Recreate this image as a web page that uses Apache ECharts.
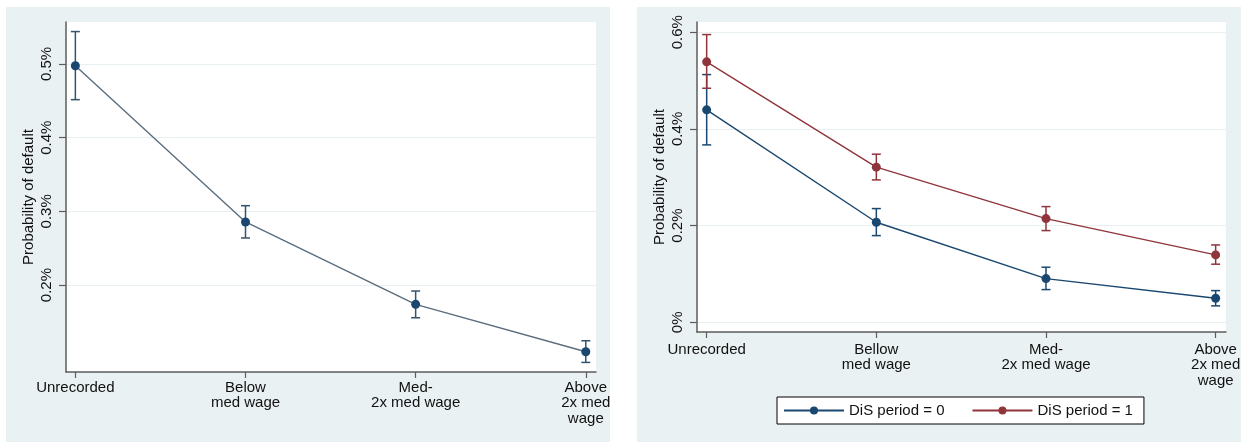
<!DOCTYPE html>
<html>
<head>
<meta charset="utf-8">
<script src="https://cdn.jsdelivr.net/npm/echarts@6/dist/echarts.min.js"></script>
<style>
  html, body { margin: 0; padding: 0; background: #ffffff; }
  #wrap { position: relative; width: 1252px; height: 442px; overflow: hidden; }
  .panel { position: absolute; background: #eaf1f3; }
  #chart { position: absolute; left: 0; top: 0; width: 1252px; height: 442px; }
</style>
</head>
<body>
<div id="wrap">
  <div class="panel" style="left:6px; top:7px; width:604px; height:435px;"></div>
  <div class="panel" style="left:637px; top:7px; width:604px; height:435px;"></div>
  <div id="chart"></div>
</div>
<script>
// ---- Data ----
const categoriesLeft = ['Unrecorded', 'Below\nmed wage', 'Med-\n2x med wage', 'Above\n2x med\nwage'];
const categoriesRight = ['Unrecorded', 'Bellow\nmed wage', 'Med-\n2x med wage', 'Above\n2x med\nwage'];

const leftValues = [0.4977, 0.2856, 0.1738, 0.1095];
const leftLower  = [0.4516, 0.2639, 0.1556, 0.0950];
const leftUpper  = [0.5440, 0.3077, 0.1919, 0.1244];

const dis0Values = [0.4393, 0.2070, 0.0904, 0.0498];
const dis0Lower  = [0.3669, 0.1793, 0.0677, 0.0340];
const dis0Upper  = [0.5123, 0.2352, 0.1140, 0.0656];

const dis1Values = [0.5386, 0.3208, 0.2145, 0.1394];
const dis1Lower  = [0.4840, 0.2945, 0.1897, 0.1202];
const dis1Upper  = [0.5950, 0.3477, 0.2393, 0.1600];

const leftTicks = [0.2, 0.3, 0.4, 0.5];
const rightTicks = [0, 0.2, 0.4, 0.6];
const catIdx = [0, 1, 2, 3];

const seriesNames = ['DiS period = 0', 'DiS period = 1'];
const yAxisTitle = 'Probability of default';

// ---- Styles ----
const FONT = 'Liberation Sans, Arial, sans-serif';
const AXIS_COLOR = '#5c5c5c';
const TEXT_COLOR = '#111111';
const GRID_LINE = '#e8f0f2';
const NAVY = '#1a476f';
const MAROON = '#90353b';

function pct(v) {
  if (Math.abs(v) < 1e-9) return '0%';
  return v.toFixed(1) + '%';
}

function xAxisCfg(gridIndex, cats, min, max, labelMargin) {
  return {
    type: 'value', gridIndex, min, max,
    axisLine: { show: true, onZero: false, lineStyle: { color: AXIS_COLOR, width: 1.5 } },
    axisTick: { show: true, length: 6, customValues: catIdx, lineStyle: { color: AXIS_COLOR, width: 1.2 } },
    axisLabel: {
      show: true, customValues: catIdx, margin: labelMargin,
      formatter: v => cats[Math.round(v)],
      color: TEXT_COLOR, fontFamily: FONT, fontSize: 15, lineHeight: 15.5
    },
    splitLine: { show: false }
  };
}

function yAxisCfg(gridIndex, ticks, min, max) {
  return {
    type: 'value', gridIndex, min, max,
    name: yAxisTitle, nameLocation: 'middle', nameGap: 30, nameRotate: 90,
    nameTextStyle: { color: TEXT_COLOR, fontFamily: FONT, fontSize: 15 },
    axisLine: { show: true, onZero: false, lineStyle: { color: AXIS_COLOR, width: 1.5 } },
    axisTick: { show: true, length: 7, customValues: ticks, lineStyle: { color: AXIS_COLOR, width: 1.2 } },
    axisLabel: {
      show: true, customValues: ticks, rotate: 90, margin: 12,
      formatter: pct, color: TEXT_COLOR, fontFamily: FONT, fontSize: 15
    },
    splitLine: { show: true, lineStyle: { color: GRID_LINE, width: 1.2 } }
  };
}

function errorBars(axisIndex, lower, upper, color) {
  return {
    type: 'custom', xAxisIndex: axisIndex, yAxisIndex: axisIndex, z: 3,
    data: lower.map((l, i) => [catIdx[i], l, upper[i]]),
    encode: { x: 0, y: [1, 2] },
    renderItem: function (params, api) {
      const x = api.value(0);
      const lo = api.coord([x, api.value(1)]);
      const hi = api.coord([x, api.value(2)]);
      const hw = 4.5;
      const st = { stroke: color, lineWidth: 1.5 };
      return {
        type: 'group',
        children: [
          { type: 'line', shape: { x1: lo[0], y1: lo[1], x2: hi[0], y2: hi[1] }, style: st },
          { type: 'line', shape: { x1: lo[0] - hw, y1: lo[1], x2: lo[0] + hw, y2: lo[1] }, style: st },
          { type: 'line', shape: { x1: hi[0] - hw, y1: hi[1], x2: hi[0] + hw, y2: hi[1] }, style: st }
        ]
      };
    }
  };
}

function lineSeries(name, axisIndex, values, lineColor, markerColor) {
  return {
    type: 'line', name, xAxisIndex: axisIndex, yAxisIndex: axisIndex, z: 4,
    data: values.map((v, i) => [catIdx[i], v]),
    symbol: 'circle', symbolSize: 9, showSymbol: true,
    lineStyle: { color: lineColor, width: 1.4 },
    itemStyle: { color: markerColor },
    emphasis: { disabled: true }
  };
}

const chart = echarts.init(document.getElementById('chart'), null, { renderer: 'canvas' });
chart.setOption({
  animation: false,
  backgroundColor: 'transparent',
  textStyle: { fontFamily: FONT },
  grid: [
    { left: 66, top: 22, width: 530, height: 350, show: true, backgroundColor: '#ffffff', borderWidth: 0, containLabel: false },
    { left: 697, top: 22, width: 529, height: 310, show: true, backgroundColor: '#ffffff', borderWidth: 0, containLabel: false }
  ],
  xAxis: [
    xAxisCfg(0, categoriesLeft, -0.055, 3.06, 8),
    xAxisCfg(1, categoriesRight, -0.057, 3.061, 10)
  ],
  yAxis: [
    yAxisCfg(0, leftTicks, 0.082, 0.557),
    yAxisCfg(1, rightTicks, -0.02, 0.621)
  ],
  legend: {
    data: seriesNames,
    left: 777, top: 397,
    orient: 'horizontal',
    itemWidth: 60, itemHeight: 10, itemGap: 27,
    padding: [6, 11, 6, 6],
    backgroundColor: '#ffffff', borderColor: '#000000', borderWidth: 1, borderRadius: 0,
    textStyle: { color: TEXT_COLOR, fontFamily: FONT, fontSize: 15 },
    selectedMode: false
  },
  series: [
    errorBars(0, leftLower, leftUpper, '#34546e'),
    lineSeries('Overall', 0, leftValues, '#5a6d7e', NAVY),
    errorBars(1, dis0Lower, dis0Upper, NAVY),
    errorBars(1, dis1Lower, dis1Upper, MAROON),
    lineSeries(seriesNames[0], 1, dis0Values, NAVY, NAVY),
    lineSeries(seriesNames[1], 1, dis1Values, MAROON, MAROON)
  ]
});
</script>
</body>
</html>
